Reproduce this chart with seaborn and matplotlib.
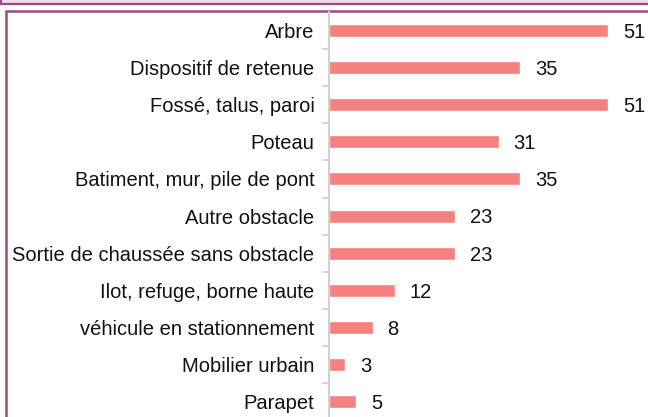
import matplotlib
matplotlib.use("Agg")
import matplotlib.pyplot as plt
import matplotlib.patches as patches
import numpy as np
import pandas as pd
import seaborn as sns

categories = [
    "Arbre",
    "Dispositif de retenue",
    "Fossé, talus, paroi",
    "Poteau",
    "Batiment, mur, pile de pont",
    "Autre obstacle",
    "Sortie de chaussée sans obstacle",
    "Ilot, refuge, borne haute",
    "véhicule en stationnement",
    "Mobilier urbain",
    "Parapet",
]
values = [51, 35, 51, 31, 35, 23, 23, 12, 8, 3, 5]

sns.set_theme(style="white")
plt.rcParams["font.family"] = ["Liberation Sans", "DejaVu Sans"]

df = pd.DataFrame({"cat": categories, "val": values})

W, H = 648, 417
fig = plt.figure(figsize=(W / 100, H / 100), dpi=100)

# outer decorations: bottom of the box above, and the chart frame
fig.patches.append(patches.Rectangle((1 / W, (H - 3.5) / H), (W + 10) / W, 10 / H,
                                     transform=fig.transFigure, facecolor="#f2dbe8",
                                     edgecolor="#9e4a7e", linewidth=1.6, clip_on=False,
                                     zorder=-10))
fig.patches.append(patches.Rectangle((5.5 / W, -10 / H), (W + 10) / W, (H - 10.5 + 10) / H,
                                     transform=fig.transFigure, facecolor="white",
                                     edgecolor="#9e4a7e", linewidth=1.8, clip_on=False,
                                     zorder=-10))

left_px, top_px, row_px = 329, 12, 37.1
n = len(categories)
ax = fig.add_axes([left_px / W, (H - top_px - n * row_px) / H,
                   (W - left_px) / W, n * row_px / H])
ax.patch.set_alpha(0)

sns.barplot(data=df, y="cat", x="val", orient="h", color="#f4817e",
            saturation=1, width=0.35, ax=ax)

xmax = 51 * (W - left_px) / (608 - left_px)
ax.set_xlim(0, xmax)
ax.set_ylim(n - 0.5, -0.5)

for i, v in enumerate(values):
    ax.text(v + 2.7, i + 0.05, str(v), va="center", ha="left", fontsize=14.5, color="#111111")

ax.set_xlabel("")
ax.set_ylabel("")
ax.set_xticks([])
ax.set_yticks(range(n))
ax.set_yticklabels(categories, fontsize=14.5, color="#111111")
ax.tick_params(axis="y", which="major", length=0, pad=10.5)
ax.set_yticks(np.arange(0.5, n - 0.5, 1), minor=True)
ax.tick_params(axis="y", which="minor", length=5, width=1.2, color="#d0d0d0", left=True)

for s in ["top", "right", "bottom"]:
    ax.spines[s].set_visible(False)
ax.spines["left"].set_color("#d0d0d0")
ax.spines["left"].set_linewidth(1.5)

fig.savefig("out.png", dpi=100)
